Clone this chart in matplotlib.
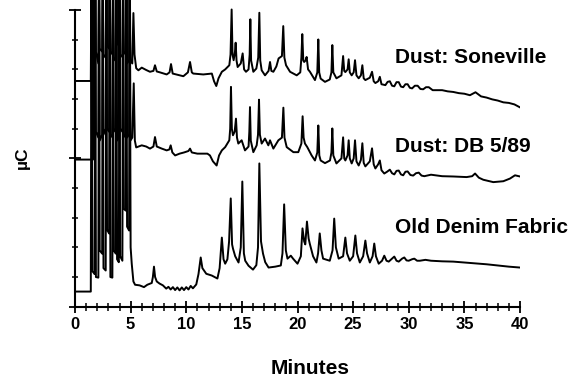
import matplotlib
matplotlib.use("Agg")
from matplotlib import pyplot as plt
from matplotlib.ticker import MultipleLocator

plt.rcParams['font.family'] = ['Liberation Sans', 'DejaVu Sans']
plt.rcParams['font.weight'] = 'bold'

# vertices (minutes, uC in tick units)
soneville_t = [0, 1.42, 1.48, 1.56, 1.76, 1.82, 1.88, 2.10, 2.16, 2.22, 2.44, 2.50, 2.56, 2.76,
               2.82, 2.88, 3.06, 3.12, 3.18, 3.36, 3.42, 3.48, 3.66, 3.72, 3.78, 3.94, 4.0, 4.06,
               4.26, 4.32, 4.38, 4.56, 4.62, 4.68, 4.86, 4.92, 4.98, 5.15, 5.25, 5.35, 5.5, 5.7,
               6.0, 6.4, 6.74, 7.05, 7.19, 7.35, 7.64, 8.24, 8.5, 8.63, 8.78, 9.2, 9.74, 10.15,
               10.34, 10.5, 10.63, 11.53, 12.3, 12.5, 12.7, 12.9, 13.2, 13.5, 13.87, 13.98, 14.08,
               14.16, 14.26, 14.38, 14.44, 14.52, 14.62, 14.9, 15.07, 15.2, 15.37, 15.6, 15.7,
               15.76, 15.83, 16.03, 16.3, 16.47, 16.57, 16.65, 16.78, 17.08, 17.4, 17.53, 17.65,
               17.83, 18.1, 18.3, 18.6, 18.72, 18.82, 18.97, 19.33, 19.93, 20.25, 20.35, 20.43,
               20.52, 20.6, 20.72, 20.82, 20.95, 21.12, 21.57, 21.78, 21.87, 21.95, 22.08, 22.47,
               22.9, 23.05, 23.13, 23.22, 23.5, 23.95, 24.1, 24.2, 24.3, 24.5, 24.6, 24.7, 24.87,
               25.05, 25.17, 25.3, 25.5, 25.7, 25.83, 25.95, 26.1, 26.5, 26.7, 26.85, 27.0, 27.25,
               27.4, 27.55, 27.9, 28.1, 28.3, 28.5, 28.7, 28.9, 29.1, 29.3, 29.5, 29.7, 29.9,
               30.1, 30.3, 30.55, 30.8, 31.05, 31.3, 31.55, 31.8, 32.15, 32.5, 33.0, 33.5, 34.0,
               34.5, 35.0, 35.5, 36.0, 36.5, 37.0, 37.5, 38.0, 38.5, 39.0, 39.5, 40]
soneville_v = [7.61, 7.61, 11.5, 8.5, 8.3, 11.5, 8.6, 8.2, 11.5, 8.7, 8.6, 11.5, 8.4, 8.5,
               11.5, 8.8, 8.7, 11.5, 8.5, 8.6, 11.5, 8.3, 8.4, 11.5, 8.9, 8.8, 11.5, 8.4,
               8.5, 11.5, 8.6, 8.5, 11.5, 8.2, 8.3, 11.5, 8.3, 8.2, 9.9, 8.5, 8.04, 7.97,
               8.06, 7.98, 7.92, 7.95, 8.14, 7.93, 7.90, 7.83, 7.9, 8.18, 7.86, 7.82, 7.77, 7.9,
               8.25, 7.9, 7.86, 7.83, 7.86, 7.6, 7.44, 7.7, 7.92, 8.00, 8.14, 8.5, 10.02,
               8.5, 8.31, 8.6, 8.90, 8.3, 8.08, 8.2, 8.54, 8.0, 7.92, 8.0, 8.5,
               9.69, 8.3, 7.92, 8.03, 8.4, 9.91, 8.3, 7.97, 7.80, 7.95, 8.25, 7.95,
               7.92, 8.1, 8.37, 8.45, 9.46, 8.4, 8.14, 7.92, 7.80, 7.9, 8.4, 9.19,
               8.3, 8.25, 8.3, 8.42, 8.0, 7.92, 7.64, 7.9, 9.01, 7.9, 7.69, 7.58,
               7.66, 7.9, 8.82, 7.9, 7.70, 7.8, 8.45, 7.95, 7.91, 8.0, 8.34, 7.9, 7.80,
               7.9, 8.31, 7.8, 7.70, 7.8, 8.14, 7.7, 7.64, 7.72, 7.92, 7.6, 7.54, 7.6,
               7.75, 7.5, 7.47, 7.58, 7.60, 7.45, 7.43, 7.57, 7.57, 7.42, 7.40, 7.5, 7.50,
               7.38, 7.36, 7.45, 7.45, 7.34, 7.33, 7.40, 7.40, 7.3, 7.30, 7.3, 7.26, 7.24,
               7.20, 7.18, 7.13, 7.23, 7.09, 7.05, 6.99, 6.95, 6.89, 6.87, 6.82, 6.72]

db_t = [0, 1.62, 1.66, 1.72, 1.76, 1.82, 1.88, 2.10, 2.16, 2.22, 2.44, 2.50, 2.56, 2.76, 2.82,
        2.88, 3.06, 3.12, 3.18, 3.36, 3.42, 3.48, 3.66, 3.72, 3.78, 3.94, 4.0, 4.06, 4.26, 4.32,
        4.38, 4.56, 4.62, 4.68, 4.86, 4.92, 4.98, 5.15, 5.28, 5.38, 5.5, 6.0, 6.4, 6.74, 7.05,
        7.19, 7.35, 7.8, 8.24, 8.48, 8.6, 8.75, 9.0, 9.4, 9.8, 10.2, 10.34, 10.5, 11.0, 11.9,
        12.13, 12.4, 12.73, 12.95, 13.2, 13.5, 13.87, 13.95, 14.02, 14.1, 14.2, 14.35, 14.47,
        14.56, 14.68, 14.98, 15.28, 15.6, 15.67, 15.73, 15.8, 16.03, 16.33, 16.45, 16.54,
        16.62, 16.78, 17.08, 17.38, 17.53, 17.83, 18.28, 18.6, 18.73, 18.83, 19.03, 19.63,
        20.07, 20.35, 20.46, 20.55, 20.67, 20.88, 21.27, 21.57, 21.78, 21.87, 21.96, 22.08,
        22.47, 22.92, 23.05, 23.13, 23.22, 23.5, 23.95, 24.1, 24.2, 24.3, 24.5, 24.6, 24.7,
        24.87, 25.05, 25.17, 25.3, 25.5, 25.7, 25.83, 25.95, 26.1, 26.5, 26.7, 26.85, 27.0,
        27.25, 27.4, 27.55, 27.8, 28.05, 28.3, 28.5, 28.7, 28.9, 29.1, 29.3, 29.5, 29.7, 29.9,
        30.15, 30.4, 30.65, 30.9, 31.15, 31.4, 32, 33, 34, 35.2, 35.7, 35.96, 36.3, 36.7,
        37.6, 38.5, 39.1, 39.55, 40]
db_v = [4.96, 4.96, 11.5, 5.8, 5.9, 11.5, 5.9, 5.7, 11.5, 5.6, 5.8, 11.5, 5.8, 6.0, 11.5,
        6.0, 5.9, 11.5, 5.7, 5.8, 11.5, 5.9, 6.0, 11.5, 5.6, 5.7, 11.5, 6.0, 5.9, 11.5,
        5.8, 5.7, 11.5, 5.7, 5.8, 11.5, 5.6, 5.7, 7.53, 5.6, 5.37, 5.44, 5.4, 5.33, 5.4,
        5.72, 5.4, 5.33, 5.27, 5.3, 5.44, 5.2, 5.10, 5.16, 5.2, 5.25, 5.33, 5.2, 5.16, 5.16,
        5.10, 4.9, 4.76, 5.1, 5.27, 5.38, 5.61, 6.0, 7.41, 6.0, 5.78, 5.9, 6.34,
        5.7, 5.50, 5.61, 5.27, 5.4, 5.9, 6.73, 5.6, 5.21, 5.44, 5.8, 6.98,
        5.8, 5.50, 5.67, 5.44, 5.61, 5.33, 5.61, 5.7, 6.71, 5.7, 5.38, 5.21,
        5.21, 5.5, 6.42, 5.7, 5.50, 5.38, 5.10, 4.93, 5.2, 6.11, 5.1, 4.93,
        4.84, 4.93, 5.2, 6.01, 5.1, 4.83, 5.0, 5.71, 5.0, 4.93, 5.1, 5.61, 5.0,
        4.83, 5.0, 5.61, 4.9, 4.76, 4.95, 5.51, 4.85, 4.73, 4.9, 5.34, 4.8, 4.66,
        4.8, 4.93, 4.6, 4.49, 4.55, 4.62, 4.5, 4.46, 4.58, 4.59, 4.46, 4.43, 4.55, 4.56,
        4.44, 4.42, 4.5, 4.52, 4.42, 4.40, 4.45, 4.40, 4.39, 4.37, 4.40, 4.49, 4.35, 4.28,
        4.20, 4.23, 4.32, 4.43, 4.39]

denim_t = [0, 1.42, 1.48, 1.56, 1.76, 1.82, 1.88, 2.10, 2.16, 2.22, 2.44, 2.50, 2.56, 2.76,
           2.82, 2.88, 3.06, 3.12, 3.18, 3.36, 3.42, 3.48, 3.66, 3.72, 3.78, 3.94, 4.0, 4.06,
           4.26, 4.32, 4.38, 4.56, 4.62, 4.68, 4.86, 4.92, 5.0, 5.1, 5.25, 5.4, 5.8, 6.2, 6.5,
           6.9, 7.0, 7.1, 7.2, 7.35, 7.6, 7.9, 8.2, 8.4, 8.6, 8.8, 9.0, 9.2, 9.4, 9.6, 9.8,
           10.0, 10.2, 10.4, 10.6, 10.9, 11.1, 11.3, 11.45, 11.8, 12.3, 12.8, 13.0, 13.2, 13.35,
           13.5, 13.7, 13.85, 14.0, 14.12, 14.2, 14.4, 14.7, 14.9, 15.04, 15.18, 15.3, 15.6,
           16.0, 16.3, 16.45, 16.57, 16.72, 16.9, 17.1, 17.4, 18.0, 18.5, 18.65, 18.8, 18.95,
           19.1, 19.4, 19.6, 20.0, 20.3, 20.45, 20.6, 20.7, 20.85, 21.0, 21.1, 21.4, 21.7,
           21.85, 22.0, 22.15, 22.3, 22.9, 23.15, 23.3, 23.45, 23.7, 24.1, 24.3, 24.45, 24.7,
           25.0, 25.2, 25.35, 25.6, 25.9, 26.1, 26.25, 26.5, 26.75, 26.9, 27.05, 27.3, 27.6,
           27.8, 28.0, 28.2, 28.5, 28.7, 28.9, 29.1, 29.4, 29.6, 29.8, 30.0, 30.3, 30.5, 30.75,
           31.0, 31.5, 32, 33, 34, 35, 36, 37, 38, 39, 40]
denim_v = [0.51, 0.51, 11.5, 1.2, 1.1, 11.5, 1.0, 0.98, 11.5, 1.9, 1.79, 11.5, 1.3, 1.22,
           11.5, 2.6, 2.47, 11.5, 1.0, 0.98, 11.5, 1.9, 1.79, 11.5, 1.6, 1.5, 11.5, 1.7,
           1.55, 11.5, 3.3, 3.24, 11.5, 2.7, 2.57, 11.5, 2.0, 1.45, 0.85, 0.74, 0.72, 0.66, 0.74,
           0.8, 1.0, 1.35, 1.0, 0.85, 0.78, 0.72, 0.61, 0.67, 0.58, 0.66, 0.56, 0.65, 0.55, 0.65, 0.56,
           0.66, 0.58, 0.7, 0.62, 0.75, 1.1, 1.66, 1.3, 1.11, 1.05, 0.95, 1.3, 2.33, 1.6,
           1.45, 1.6, 2.2, 3.65, 2.1, 1.96, 1.7, 1.49, 2.0, 4.22, 1.8, 1.55, 1.38,
           1.25, 1.4, 2.0, 4.83, 2.2, 1.79, 1.5, 1.32, 1.35, 1.39, 1.8, 3.45, 1.9,
           1.62, 1.72, 1.62, 1.45, 1.7, 2.64, 2.2, 2.1, 2.87, 2.3, 2.13, 1.7, 1.49,
           1.8, 2.47, 1.9, 1.62, 1.55, 1.9, 2.97, 2.0, 1.62, 1.7, 2.33, 1.8, 1.55,
           1.7, 2.40, 1.8, 1.49, 1.7, 2.23, 1.8, 1.49, 1.7, 2.13, 1.7, 1.45, 1.55,
           1.72, 1.55, 1.52, 1.62, 1.69, 1.55, 1.52, 1.62, 1.66, 1.56, 1.55, 1.6, 1.62, 1.55,
           1.55, 1.58, 1.55, 1.53, 1.52, 1.49, 1.46, 1.43, 1.39, 1.35, 1.32]

labels = ["Dust: Soneville", "Dust: DB 5/89", "Old Denim Fabric"]
label_y = [8.20, 5.21, 2.48]
label_x = 28.76

fig = plt.figure(figsize=(5.77, 3.78), dpi=100)
ax = fig.add_axes([75 / 577, 1 - 306.7 / 378, 445 / 577, 306.7 / 378])

for t, v in [(soneville_t, soneville_v), (db_t, db_v), (denim_t, denim_v)]:
    ax.plot(t, v, color='black', lw=1.4, solid_joinstyle='round')

for lab, y in zip(labels, label_y):
    ax.text(label_x, y, lab, fontsize=15, fontweight='bold', va='baseline', ha='left', clip_on=False)

ax.set_xlim(0, 40)
ax.set_ylim(0, 10.34)
ax.spines['top'].set_visible(False)
ax.spines['right'].set_visible(False)
ax.spines['left'].set_bounds(0, 10)
ax.spines['left'].set_linewidth(1.5)
ax.spines['bottom'].set_linewidth(1.5)

ax.xaxis.set_major_locator(MultipleLocator(5))
ax.xaxis.set_minor_locator(MultipleLocator(1))
ax.yaxis.set_major_locator(MultipleLocator(5))
ax.yaxis.set_minor_locator(MultipleLocator(1))
ax.tick_params(axis='x', which='major', direction='inout', length=9, width=1.3, labelsize=12, pad=3)
ax.tick_params(axis='x', which='minor', direction='inout', length=6, width=1.1)
ax.tick_params(axis='y', which='major', direction='inout', length=8, width=1.3, labelleft=False)
ax.tick_params(axis='y', which='minor', direction='inout', length=5, width=1.1)
for lbl in ax.get_xticklabels():
    lbl.set_fontweight('bold')

fig.text(310 / 577, 1 - 369 / 378, "Minutes", fontsize=15, fontweight='bold', ha='center', va='center')
fig.text(22 / 577, 1 - 158 / 378, "µC", fontsize=12.5, fontweight='bold', rotation=90, ha='center', va='center')

fig.savefig('out.png', dpi=100)
